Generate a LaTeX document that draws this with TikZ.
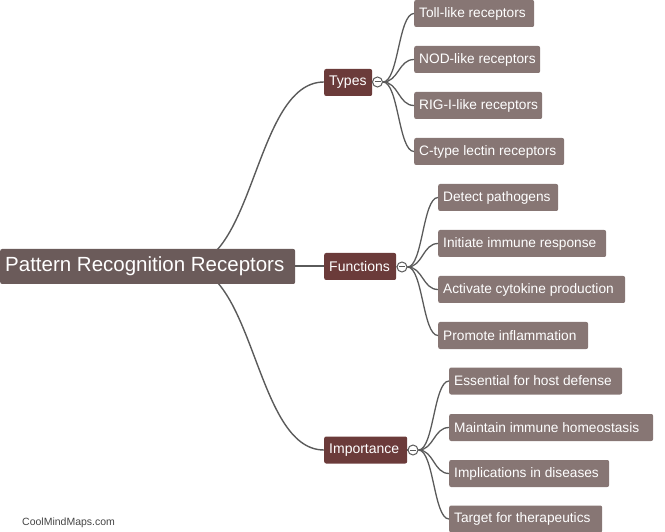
\documentclass[tikz,border=0pt]{standalone}
\usepackage{fontspec}
\setmainfont{Liberation Sans}
\usetikzlibrary{calc}
\definecolor{rootc}{HTML}{6B5B5A}
\definecolor{midc}{HTML}{6B3B3A}
\definecolor{leafc}{HTML}{877674}
\definecolor{edgec}{HTML}{5A5A5A}
\definecolor{markc}{HTML}{444444}
\newcommand{\lbox}[2]{\makebox[#1pt][l]{#2}}
\tikzset{
  box/.style={anchor=west, rounded corners=2pt, text=white, inner xsep=5pt, inner ysep=0pt},
  rootbox/.style={box, fill=rootc, font=\fontsize{20.5}{24}\selectfont, minimum height=35pt},
  midbox/.style={box, fill=midc, font=\fontsize{14}{17}\selectfont, minimum height=27pt},
  leafbox/.style={box, fill=leafc, font=\fontsize{13.7}{17}\selectfont, minimum height=27pt},
  edge/.style={draw=edgec, line width=1.4pt},
  toggle/.style={circle, draw=edgec, fill=white, line width=1pt, minimum size=10pt, inner sep=0pt},
}
\begin{document}
\begin{tikzpicture}[x=1pt,y=-1pt]
\useasboundingbox (0,0) rectangle (665,532);
\coordinate (rs) at (185,266);
% edges from root (drawn first, behind root)
\draw[edge] (rs) .. controls (255,266) and (255,82) .. (324,82);
\draw[edge] (rs) .. controls (255,266) and (255,450) .. (324,450);
\draw[edge] (rs) -- (324,266);
% root
\node[rootbox] (root) at (0,266.5) {\lbox{285}{Pattern Recognition Receptors}};
% mid nodes
\node[midbox] (types) at (324,82.5) {\lbox{38}{Types}};
\node[midbox] (func) at (324,266.5) {\lbox{62}{Functions}};
\node[midbox] (imp) at (324,450) {\lbox{73}{Importance}};
% toggles
\node[toggle] (tt) at (377.5,82) {};
\node[toggle] (tf) at (402,267) {};
\node[toggle] (ti) at (413,450) {};
\draw[edge] (types.east) -- (tt.west);
\draw[edge] (func.east) -- (tf.west);
\draw[edge] (imp.east) -- (ti.west);
\foreach \t in {tt,tf,ti} { \draw[edgec, line width=1pt] ([xshift=-3pt]\t.center) -- ([xshift=3pt]\t.center); }
% leaves: Types
\node[leafbox] (l1) at (414,13.5) {\lbox{110}{Toll-like receptors}};
\node[leafbox] (l2) at (414,59.5) {\lbox{116}{NOD-like receptors}};
\node[leafbox] (l3) at (414,105.5) {\lbox{118}{RIG-I-like receptors}};
\node[leafbox] (l4) at (414,151.5) {\lbox{140}{C-type lectin receptors}};
% leaves: Functions
\node[leafbox] (l5) at (438,197.5) {\lbox{110}{Detect pathogens}};
\node[leafbox] (l6) at (438,243.5) {\lbox{158}{Initiate immune response}};
\node[leafbox] (l7) at (438,289.5) {\lbox{177}{Activate cytokine production}};
\node[leafbox] (l8) at (438,335.5) {\lbox{140}{Promote inflammation}};
% leaves: Importance
\node[leafbox] (l9) at (449,381) {\lbox{163}{Essential for host defense}};
\node[leafbox] (l10) at (449,427.5) {\lbox{194}{Maintain immune homeostasis}};
\node[leafbox] (l11) at (449,473.5) {\lbox{150}{Implications in diseases}};
\node[leafbox] (l12) at (449,519) {\lbox{143}{Target for therapeutics}};
% leaf edges
\foreach \s/\a/\b/\c/\d in {tt/l1/l2/l3/l4, tf/l5/l6/l7/l8, ti/l9/l10/l11/l12} {
  \foreach \l in {\a,\b,\c,\d} {
    \path (\s.east) coordinate (p0) (\l.west) coordinate (p3);
    \draw[edge, line width=1.3pt] (p0) .. controls ($(p0)!0.5!(p3|-p0)$) and ($(p3)!0.5!(p0|-p3)$) .. (p3);
  }
}
\node[anchor=west, text=markc, font=\fontsize{10.5}{12}\selectfont, inner sep=0pt] (wm) at (22,523) {CoolMindMaps.com};
\end{tikzpicture}
\end{document}
